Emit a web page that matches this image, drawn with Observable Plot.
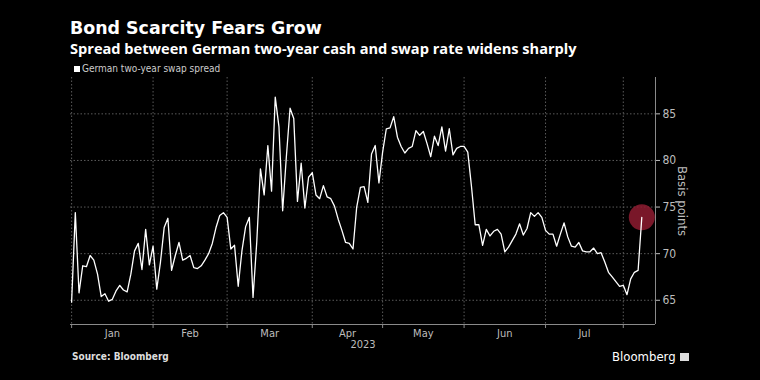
<!DOCTYPE html>
<html>
<head>
<meta charset="utf-8">
<script src="https://cdn.jsdelivr.net/npm/d3@7"></script>
<script src="https://cdn.jsdelivr.net/npm/@observablehq/plot@0.6"></script>
<style>
  html, body { margin: 0; padding: 0; background: #000; }
  #wrap { position: relative; width: 760px; height: 380px; background: #000; overflow: hidden; }
  .abs { position: absolute; white-space: nowrap; }
  #title { left: 70px; top: 20px; font: bold 17.4px/17px "DejaVu Sans", sans-serif; color: #fff; }
  #subtitle { left: 70px; top: 41px; font: bold 14.6px/14px "Open Sans", sans-serif; color: #fff; }
  #legend { left: 74px; top: 64px; font: 10px/10px "DejaVu Sans Condensed", "Liberation Sans Narrow", "Roboto", sans-serif; color: #ccc; }
  #legend .sw { display: inline-block; width: 6px; height: 6px; background: #fff; margin-right: 2px; vertical-align: 0px; }
  #source { left: 72px; top: 352px; font: bold 10px/10px "DejaVu Sans Condensed", "Liberation Sans", sans-serif; color: #ddd; }
  #logo { left: 612px; top: 350px; font: 13px/13px "DejaVu Sans Condensed", "Liberation Sans", sans-serif; color: #fff; }
  #logo .ic { display: inline-block; width: 9px; height: 8px; background: #ddd; margin-left: 4px; vertical-align: 0px; }
  #chart { position: absolute; left: 0; top: 0; }
</style>
</head>
<body>
<div id="wrap">
  <div id="chart"></div>
  <div class="abs" id="title"></div>
  <div class="abs" id="subtitle"></div>
  <div class="abs" id="legend"><span class="sw"></span><span id="legtext"></span></div>
  <div class="abs" id="source"></div>
  <div class="abs" id="logo"><span id="logotext"></span><span class="ic"></span></div>
</div>
<script>
// ---- text ----
const titleText = "Bond Scarcity Fears Grow";
const subtitleText = "Spread between German two-year cash and swap rate widens sharply";
const seriesName = "German two-year swap spread";
const sourceText = "Source: Bloomberg";
const logoText = "Bloomberg";
const yAxisLabel = "Basis points";
const yearLabel = "2023";

// ---- axis labels ----
const monthNames = ["Jan", "Feb", "Mar", "Apr", "May", "Jun", "Jul"];
// trading-day index at which each month begins (Jan .. Aug)
const monthStarts = [0, 22, 42, 65, 84, 106, 128, 149];
const yTicks = [65, 70, 75, 80, 85];

// ---- series: German two-year swap spread (bp), one value per trading day, Jan 2 - Aug 8 2023 ----
const spread = [
  64.8, 74.4, 65.8, 68.7, 68.6, 69.8, 69.3, 67.8, 65.4, 65.7,
  64.9, 65.1, 66.0, 66.6, 66.1, 65.9, 67.8, 70.3, 71.1, 68.3,
  72.6, 68.8, 70.8, 66.2, 69.1, 72.8, 73.8, 68.2, 69.8, 71.2,
  69.3, 69.5, 69.8, 68.5, 68.4, 68.7, 69.3, 70.0, 71.1, 72.8,
  74.1, 74.4, 73.9, 70.5, 70.9, 66.5, 70.3, 72.9, 73.9, 65.3,
  71.2, 79.1, 76.3, 81.6, 76.7, 86.8, 83.6, 74.6, 80.4, 85.6,
  84.5, 75.6, 79.7, 74.9, 78.2, 78.7, 76.3, 75.9, 77.3, 76.1,
  75.9, 75.1, 73.7, 72.5, 71.2, 71.1, 70.5, 75.0, 77.1, 77.2,
  75.5, 80.7, 81.6, 77.6, 80.9, 83.4, 83.5, 84.7, 82.5, 81.5,
  80.8, 81.3, 81.5, 83.2, 82.7, 83.1, 81.8, 80.4, 82.6, 81.6,
  83.6, 81.0, 83.4, 80.6, 81.3, 81.5, 81.5, 80.9, 77.2, 73.1,
  73.1, 70.9, 72.6, 71.9, 72.4, 72.6, 72.1, 70.2, 70.7, 71.4,
  72.1, 73.2, 72.0, 72.7, 74.4, 74.0, 74.4, 73.9, 72.5, 72.1,
  72.1, 70.8, 72.1, 73.3, 71.8, 70.8, 70.7, 71.2, 70.3, 70.2,
  70.2, 70.6, 70.0, 70.1, 69.1, 68.0, 67.5, 67.0, 66.5, 66.6,
  65.6, 67.3, 68.0, 68.2, 73.9
];

document.getElementById("title").textContent = titleText;
document.getElementById("subtitle").textContent = subtitleText;
document.getElementById("legtext").textContent = seriesName;
document.getElementById("source").textContent = sourceText;
document.getElementById("logotext").textContent = logoText;

const data = spread.map((v, i) => ({i, v}));
const last = data[data.length - 1];
const mids = monthNames.map((m, k) => (monthStarts[k] + monthStarts[k + 1]) / 2);
const xDomain = [-0.3, 157.7];
const yDomain = [62.4, 88.9];
const grid = "#5a5a5a";
const axisColor = "#8a8a8a";

const chart = Plot.plot({
  width: 760,
  height: 380,
  marginLeft: 70,
  marginRight: 105,
  marginTop: 77,
  marginBottom: 56,
  style: {background: "transparent", color: "#bdbdbd", fontFamily: "'DejaVu Sans Condensed', 'Liberation Sans Narrow', Roboto, sans-serif", fontSize: "11px"},
  x: {domain: xDomain},
  y: {domain: yDomain},
  marks: [
    Plot.ruleY(yTicks, {stroke: grid, strokeDasharray: "1.5,2"}),
    Plot.ruleX(monthStarts, {stroke: grid, strokeDasharray: "1.5,2"}),
    Plot.ruleY([yDomain[0]], {stroke: axisColor}),
    Plot.ruleX([xDomain[1]], {stroke: axisColor}),
    Plot.axisY({anchor: "right", ticks: yTicks, tickSize: 4, tickPadding: 3, label: null, fontSize: 12}),
    Plot.axisX({ticks: monthStarts, tickSize: 4, tickFormat: () => "", label: null, stroke: axisColor}),
    Plot.axisX({ticks: mids, tickSize: 0, tickPadding: 5, tickFormat: d => monthNames[mids.indexOf(d)], label: null}),
    Plot.text([yearLabel], {text: d => d, frameAnchor: "bottom", lineAnchor: "bottom", textAnchor: "middle", dy: 23, fill: "#bdbdbd"}),
    Plot.text([yAxisLabel], {text: d => d, frameAnchor: "right", textAnchor: "middle", lineAnchor: "middle", rotate: 90, dx: 27, fontSize: 13, fill: "#bdbdbd"}),
    Plot.dot([last], {x: "i", y: "v", r: 13, fill: "#8e1b30", fillOpacity: 0.85}),
    Plot.line(data, {x: "i", y: "v", stroke: "#fff", strokeWidth: 1.3})
  ]
});
document.getElementById("chart").appendChild(chart);
</script>
</body>
</html>
